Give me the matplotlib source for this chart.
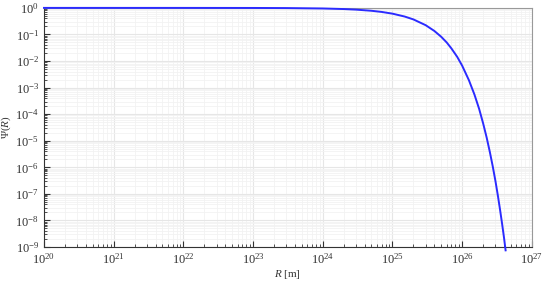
import matplotlib.pyplot as plt
from matplotlib.ticker import LogLocator, NullFormatter

plt.rcParams["font.family"] = ["Liberation Serif", "DejaVu Serif"]
plt.rcParams["mathtext.fontset"] = "custom"
plt.rcParams["mathtext.rm"] = "Liberation Serif"
plt.rcParams["mathtext.it"] = "Liberation Serif:italic"

# values
R = [1e20, 1e22, 1e23, 3e23, 1e24, 2e24, 3e24, 5e24, 7e24, 1e25, 1.5e25,
     2e25, 3e25, 4e25, 5e25, 6e25, 7e25, 8.5e25, 1e26, 1.25e26, 1.5e26,
     1.75e26, 2e26, 2.25e26, 2.5e26, 2.75e26, 3e26, 3.25e26, 3.5e26,
     3.75e26, 4e26, 4.2e26]
psi = [1.0, 0.9995, 0.995, 0.985, 0.951, 0.905, 0.861, 0.779, 0.705, 0.607,
       0.472, 0.368, 0.223, 0.135, 0.082, 0.050, 0.030, 0.0143, 6.7e-3,
       1.9e-3, 5.5e-4, 1.6e-4, 4.5e-5, 1.3e-5, 3.7e-6, 1.07e-6, 3.1e-7,
       8.8e-8, 2.5e-8, 7.2e-9, 2.1e-9, 7.5e-10]
x_decades = range(20, 28)
y_decades = range(-9, 1)

fig = plt.figure(figsize=(5.5, 2.82), dpi=100)
ax = fig.add_axes([0.08, 0.124, 0.887, 0.848])
ax.plot(R, psi, color="#2b2bff", linewidth=1.4, clip_on=False, zorder=3)

ax.set_xscale("log")
ax.set_yscale("log")
ax.set_xlim(1e20, 1e27)
ax.set_ylim(1e-9, 1.0)

ax.set_xticks([10.0 ** k for k in x_decades])
ax.set_yticks([10.0 ** k for k in y_decades])
ax.xaxis.set_minor_locator(LogLocator(base=10, subs=range(2, 10), numticks=100))
ax.xaxis.set_minor_formatter(NullFormatter())
ax.yaxis.set_minor_locator(LogLocator(base=10, subs=range(2, 10), numticks=100))
ax.yaxis.set_minor_formatter(NullFormatter())

ax.tick_params(which="both", direction="in", top=False, right=False,
               labelsize=9, colors="#333333")
ax.tick_params(which="major", length=4)
ax.tick_params(which="minor", length=2.5)
ax.grid(which="major", color="#e6e6e6", linewidth=0.8)
ax.grid(which="minor", color="#f2f2f2", linewidth=0.6)
for side in ax.spines.values():
    side.set_color("#999999")
ax.spines["left"].set_color("#333333")
ax.spines["bottom"].set_color("#333333")

ax.set_xlabel(r"$R$ [m]", fontsize=8, color="#333333", labelpad=1)
ax.set_ylabel(r"$\Psi(R)$", fontsize=8, color="#333333", labelpad=2)

fig.savefig("out.png", dpi=100)
